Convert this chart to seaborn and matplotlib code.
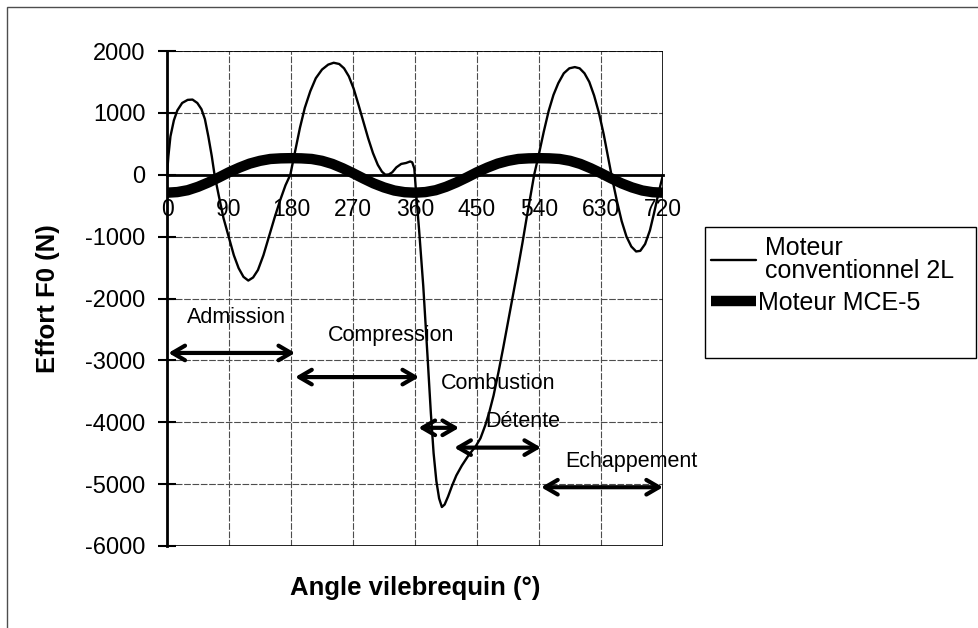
import matplotlib
matplotlib.use("Agg")
import matplotlib.pyplot as plt
from matplotlib.patches import Rectangle
import seaborn as sns

sns.set_theme(style="white")
plt.rcParams['font.family'] = ['Liberation Sans', 'DejaVu Sans']
plt.rcParams['axes.unicode_minus'] = False

# moteur conventionnel 2L (courbe fine)
angle_conv = [0, 2, 5, 10, 15, 22, 30, 37, 44, 50, 55, 60, 65, 69,
              75, 82, 90, 97, 104, 111, 118, 125, 132, 140, 148, 156, 164, 172, 179,
              186, 193, 200, 208, 216, 225, 234, 242, 250, 257, 264, 271, 278, 285,
              292, 299, 306, 312, 317, 322,
              327, 333, 340, 347, 353, 356, 359, 362,
              366, 372, 378, 383, 387, 391, 395, 399, 403, 408, 414, 420, 428, 438,
              448, 455, 462, 468, 474, 481, 488, 495, 502, 509, 516, 522, 528, 533,
              540, 547, 554, 561, 568, 576, 584, 592, 599, 606, 613, 620, 627, 634,
              640, 646, 653, 660, 667, 674, 681, 687, 694, 701, 707, 713, 720]
effort_conv = [0, 300, 620, 880, 1040, 1160, 1210, 1215, 1160, 1060, 900, 620, 300, 0,
               -330, -700, -1020, -1300, -1510, -1650, -1710, -1660, -1540, -1300,
               -1000, -700, -420, -170, 0,
               380, 760, 1080, 1350, 1560, 1700, 1780, 1810, 1790, 1720, 1590, 1390,
               1130, 860, 590, 350, 160, 50, 0, 5,
               40, 120, 175, 190, 215, 200, 100, -350,
               -900, -1800, -2900, -3850, -4500, -4950, -5230, -5370, -5330, -5200,
               -5020, -4860, -4700, -4530, -4390, -4260, -4050, -3830, -3570, -3200,
               -2800, -2380, -1960, -1540, -1100, -700, -320, 0,
               340, 700, 1030, 1290, 1480, 1640, 1720, 1740, 1720, 1640, 1500, 1280,
               1000, 650, 300, -50, -420, -750, -1000, -1160, -1240, -1230, -1120,
               -900, -620, -320, 0]

# moteur MCE-5 (courbe epaisse)
angle_mce5 = list(range(0, 721, 15))
effort_mce5 = [-290, -280, -250, -195, -125, -45, 40, 115, 180, 225, 255, 265, 268,
               265, 255, 225, 175, 105, 25, -60, -140, -205, -255, -282, -290,
               -280, -250, -195, -125, -45, 40, 115, 180, 225, 255, 265, 268,
               265, 255, 225, 175, 105, 25, -60, -140, -205, -255, -282, -290]

# phases du cycle
phase_names = ['Admission', 'Compression', 'Combustion', 'Détente', 'Echappement']
phase_start = [2, 186, 365, 417, 543]
phase_end = [186, 366, 424, 543, 720]
phase_y = [-2880, -3270, -4090, -4410, -5050]
label_x = [101, 325, 481, 516, 674]
label_y = [-2300, -2600, -3370, -3980, -4640]

fig = plt.figure(figsize=(9.79, 6.28), dpi=100)
ax = fig.add_axes([167 / 979, 1 - 546 / 628, 496 / 979, 495 / 628])

sns.lineplot(x=angle_conv, y=effort_conv, ax=ax, color='black', lw=1.7,
             label=' Moteur\n conventionnel 2L', zorder=3)
sns.lineplot(x=angle_mce5, y=effort_mce5, ax=ax, color='black', lw=7.5,
             label='Moteur MCE-5', zorder=4, solid_capstyle='butt')

ax.set_xlim(0, 720)
ax.set_ylim(-6000, 2000)
ax.set_xticks(range(0, 721, 90))
ax.set_yticks(range(-6000, 2001, 1000))

ax.grid(True, color='0.3', lw=0.8, linestyle=(0, (6, 1.5)))
ax.set_axisbelow(True)

for s in ['top', 'right']:
    ax.spines[s].set_visible(False)
ax.spines['bottom'].set_position(('data', 0))
ax.spines['bottom'].set_linewidth(2)
ax.spines['bottom'].set_color('black')
ax.spines['left'].set_linewidth(2)
ax.spines['left'].set_color('black')
ax.add_patch(Rectangle((0, 0), 1, 1, transform=ax.transAxes, fill=False,
                       ec='black', lw=1.2, zorder=2))

ax.tick_params(axis='x', length=0, pad=17, labelsize=16.5, colors='black')
ax.tick_params(axis='y', direction='inout', length=13, width=1.5, pad=9,
               labelsize=17, colors='black', left=True)

ax.set_xlabel('Angle vilebrequin (°)', fontsize=18.5, fontweight='bold', color='black')
ax.set_ylabel('Effort F0 (N)', fontsize=18.5, fontweight='bold', color='black')
ax.xaxis.set_label_coords(0.5, -0.06)
ax.yaxis.set_label_coords(-0.215, 0.5)

for name, x0, x1, y, tx, ty in zip(phase_names, phase_start, phase_end, phase_y,
                                   label_x, label_y):
    ax.annotate('', xy=(x1, y), xytext=(x0, y),
                arrowprops=dict(arrowstyle='<->, head_length=0.6, head_width=0.35',
                                lw=3, color='black', shrinkA=0, shrinkB=0,
                                mutation_scale=15),
                annotation_clip=False, zorder=6)
    ax.text(tx, ty, name, ha='center', va='center', fontsize=15.5, color='black',
            clip_on=False, zorder=7)

leg = ax.legend(loc='upper left', bbox_to_anchor=(711 / 979, 1 - 236 / 628),
                bbox_transform=fig.transFigure, frameon=False, fontsize=18,
                handlelength=1.8, handletextpad=0.1, labelspacing=0.3,
                borderaxespad=0, borderpad=0)
for t in leg.get_texts():
    t.set_linespacing(0.95)
    t.set_color('black')

fig.add_artist(Rectangle((705 / 979, 1 - 358 / 628), 271 / 979, 131 / 628,
                         transform=fig.transFigure, fill=False, ec='black', lw=1))
fig.add_artist(Rectangle((7 / 979, -0.1), 1.0, 1.1 - 7 / 628,
                         transform=fig.transFigure, fill=False, ec='0.3', lw=1))

fig.savefig('out.png', dpi=100)
